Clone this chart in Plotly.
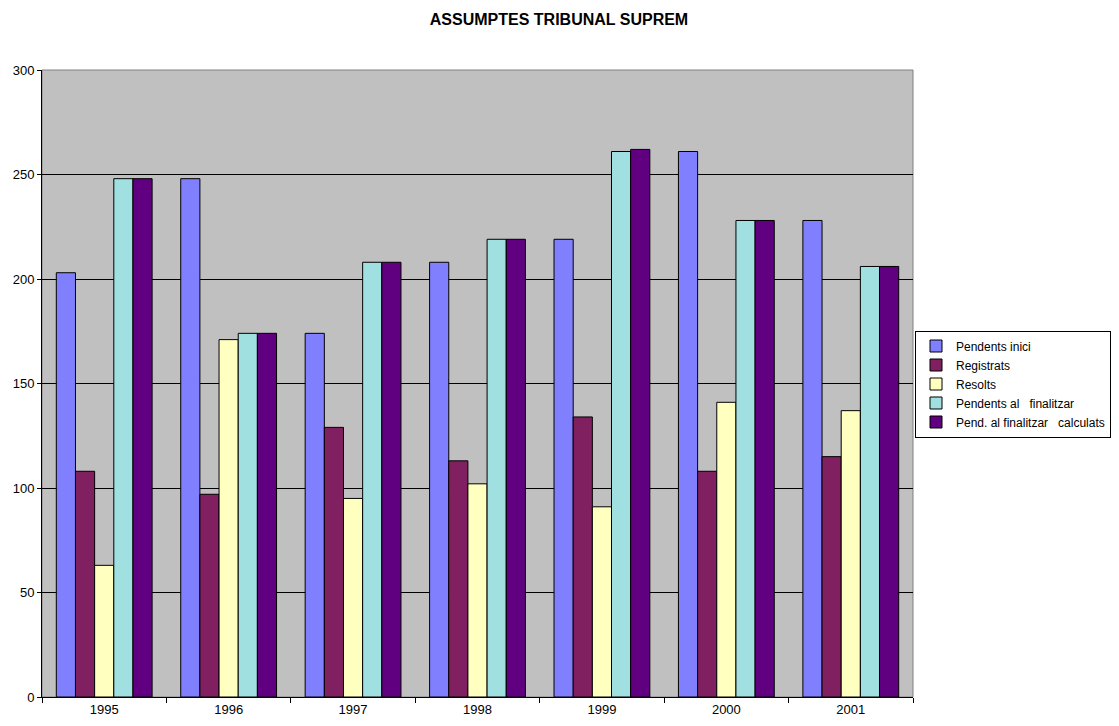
import plotly.graph_objects as go

years = ["1995", "1996", "1997", "1998", "1999", "2000", "2001"]
pendents_inici = [203, 248, 174, 208, 219, 261, 228]
registrats = [108, 97, 129, 113, 134, 108, 115]
resolts = [63, 171, 95, 102, 91, 141, 137]
pendents_final = [248, 174, 208, 219, 261, 228, 206]
pend_calculats = [248, 174, 208, 219, 262, 228, 206]

series = [
    ("Pendents inici", pendents_inici, "#8080FF"),
    ("Registrats", registrats, "#802060"),
    ("Resolts", resolts, "#FFFFC0"),
    ("Pendents al   finalitzar", pendents_final, "#A0E0E0"),
    ("Pend. al finalitzar   calculats", pend_calculats, "#600080"),
]

fig = go.Figure()
for name, vals, col in series:
    fig.add_trace(go.Bar(
        x=years, y=vals, name=name,
        marker=dict(color=col, line=dict(color="black", width=1)),
    ))

W, H = 1103, 710
fig.update_layout(
    width=W, height=H,
    margin=dict(l=34, r=198, t=62, b=21, autoexpand=False),
    paper_bgcolor="white",
    plot_bgcolor="#C0C0C0",
    barmode="group",
    bargap=0.23,
    bargroupgap=0,
    font=dict(family="Liberation Sans, Arial, sans-serif", size=13, color="black"),
    title=dict(text="<b>ASSUMPTES TRIBUNAL SUPREM</b>", x=551 / W, xref="container",
               xanchor="center", y=1 - 11 / H, yref="container", yanchor="middle",
               font=dict(size=16)),
    showlegend=True,
    legend=dict(
        xref="container", yref="container",
        x=1.0, xanchor="right", y=1 - 376 / H, yanchor="middle",
        bgcolor="white", bordercolor="black", borderwidth=1,
        font=dict(size=12), tracegroupgap=0, itemwidth=30,
    ),
    xaxis=dict(
        showline=True, linecolor="black", linewidth=1,
        ticks="outside", tickson="boundaries", ticklen=5, tickcolor="black",
        showgrid=False, mirror=False, automargin=False,
    ),
    yaxis=dict(
        range=[0, 300], dtick=50,
        showline=True, linecolor="black", linewidth=1,
        ticks="outside", ticklen=4, tickcolor="black",
        showgrid=True, gridcolor="black", gridwidth=1,
        zeroline=False, automargin=False,
    ),
)
fig.add_shape(type="rect", xref="paper", yref="paper", x0=0, x1=1, y0=0, y1=1,
              line=dict(color="#808080", width=1), layer="below")

fig.write_html("out.html")
